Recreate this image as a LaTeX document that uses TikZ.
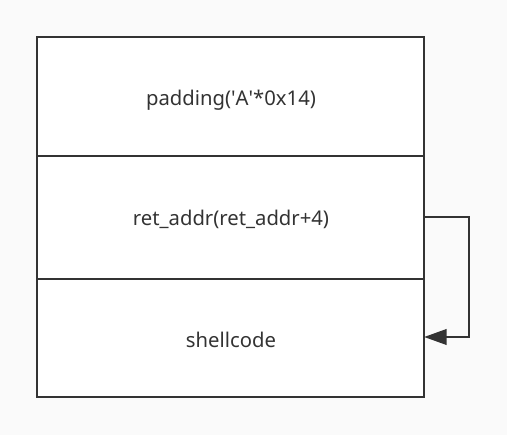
\documentclass[tikz,border=0pt]{standalone}
\usepackage{fontspec}
\setmainfont{Noto Sans}
\usetikzlibrary{arrows.meta}
\definecolor{ink}{HTML}{333333}
\definecolor{bg}{HTML}{FAFAFA}
\tikzset{
  frame/.style={draw=ink, line width=2.2pt, fill=white},
  sep/.style={draw=ink, line width=2.2pt},
  lbl/.style={font=\fontsize{15.2pt}{18pt}\selectfont, text=ink},
  link/.style={draw=ink, line width=2.2pt, -{Triangle[length=17pt,width=11.5pt]}}
}
\begin{document}
\begin{tikzpicture}[x=0.75pt,y=-0.75pt]
  \fill[bg] (0,0) rectangle (507,435);
  \useasboundingbox (0,0) rectangle (507,435);
  \draw[frame] (37,37) rectangle (424,397);
  \draw[sep] (37,156) -- (424,156);
  \draw[sep] (37,279) -- (424,279);
  \node[lbl] (pad) at (231,100) {padding(\textquotesingle A\textquotesingle*0x14)};
  \node[lbl] (ret) at (231,219) {ret\_addr(ret\_addr+4)};
  \node[lbl] (sc) at (231,340) {shellcode};
  \coordinate (out) at (424,217);
  \coordinate (in) at (424,337);
  \draw[link] (out) -- (469,217) -- (469,337) -- (in);
\end{tikzpicture}
\end{document}
